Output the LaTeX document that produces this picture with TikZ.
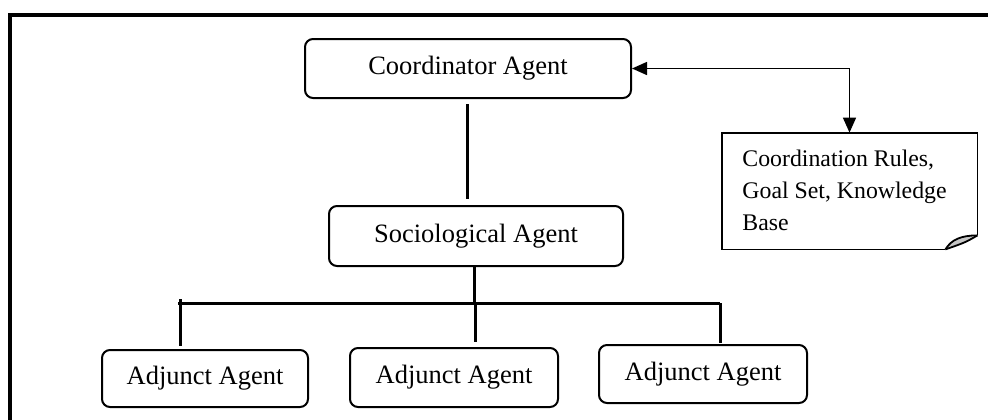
\documentclass[tikz,border=0pt]{standalone}
\usepackage{fontspec}
\setmainfont{Liberation Serif}
\usetikzlibrary{arrows.meta}
\begin{document}
\begin{tikzpicture}[x=0.5pt,y=-0.5pt,
  agent/.style={draw, line width=1pt, rounded corners=4pt, inner sep=0pt,
                font=\fontsize{13.25}{16}\selectfont},
  link/.style={line width=1.5pt},
  ptr/.style={line width=0.75pt, {Triangle[length=7.5pt,width=6.5pt]}-{Triangle[length=7.5pt,width=6.5pt]}},
  frame/.style={line width=2pt},
]
\clip (0,0) rectangle (988,419);
\fill[white] (0,0) rectangle (988,419);
% outer frame (runs past the right and bottom edges)
\draw[frame] (10,15) rectangle (1010,440);

% agents
\node[agent, minimum width=163pt, minimum height=29.5pt] (coord) at (468,68.5) {Coordinator Agent};
\node[agent, minimum width=147pt, minimum height=30pt] (soc) at (476,236) {Sociological Agent};
\node[agent, minimum width=103pt, minimum height=28.5pt] (a1) at (205,378.5) {Adjunct Agent};
\node[agent, minimum width=104pt, minimum height=29.5pt] (a2) at (454,377.5) {Adjunct Agent};
\node[agent, minimum width=104pt, minimum height=29pt] (a3) at (703,374) {Adjunct Agent};

% knowledge note with folded corner
\node[minimum width=127.5pt, minimum height=58pt, inner sep=0pt] (note) at (849.5,191) {};
\fill[white] (note.north west) -- (note.north east) -- ([yshift=7pt]note.south east)
  -- ([xshift=-16pt]note.south east) -- (note.south west) -- cycle;
\fill[gray!45] ([xshift=-16pt]note.south east) .. controls ([xshift=-13pt,yshift=5pt]note.south east) and ([xshift=-8pt,yshift=7pt]note.south east) .. ([yshift=7pt]note.south east)
  .. controls ([xshift=-6pt,yshift=3.5pt]note.south east) .. ([xshift=-16pt]note.south east) -- cycle;
\draw[line width=0.9pt, line join=miter] ([xshift=-16pt]note.south east) .. controls ([xshift=-13pt,yshift=5pt]note.south east) and ([xshift=-8pt,yshift=7pt]note.south east) .. ([yshift=7pt]note.south east);
\draw[line width=0.9pt] ([xshift=-16pt]note.south east) .. controls ([xshift=-6pt,yshift=3.5pt]note.south east) .. ([yshift=7pt]note.south east);
\draw[line width=0.9pt] ([yshift=7pt]note.south east) -- (note.north east) -- (note.north west)
  -- (note.south west) -- ([xshift=-16pt]note.south east);
\node[anchor=west, align=left, inner sep=0pt, font=\fontsize{11.9}{16}\selectfont] (notetext) at (742,190)
  {Coordination Rules,\\Goal Set, Knowledge\\Base};

% two-way link between coordinator and the note
\draw[ptr] (coord.east) -- (coord.east -| note.north) -- (note.north);

% hierarchy links
\coordinate (busL) at (178,303);
\coordinate (busR) at (720,303);
\draw[link] ([yshift=-2.5pt]coord.south -| 467,0) -- ([yshift=3pt]soc.north -| 467,0);
\draw[link] (soc.south -| 474,0) -- (busL -| 474,0);
\draw[link] (busL) -- (busR);
\draw[link] ([yshift=2pt]busL -| a1.north -| 180,0) -- ([yshift=1.5pt]a1.north -| 180,0);
\draw[link] (busL -| 475,0) -- ([yshift=2.5pt]a2.north -| 475,0);
\draw[link] (busR) -- ([yshift=0.5pt]a3.north -| busR);
\end{tikzpicture}
\end{document}
